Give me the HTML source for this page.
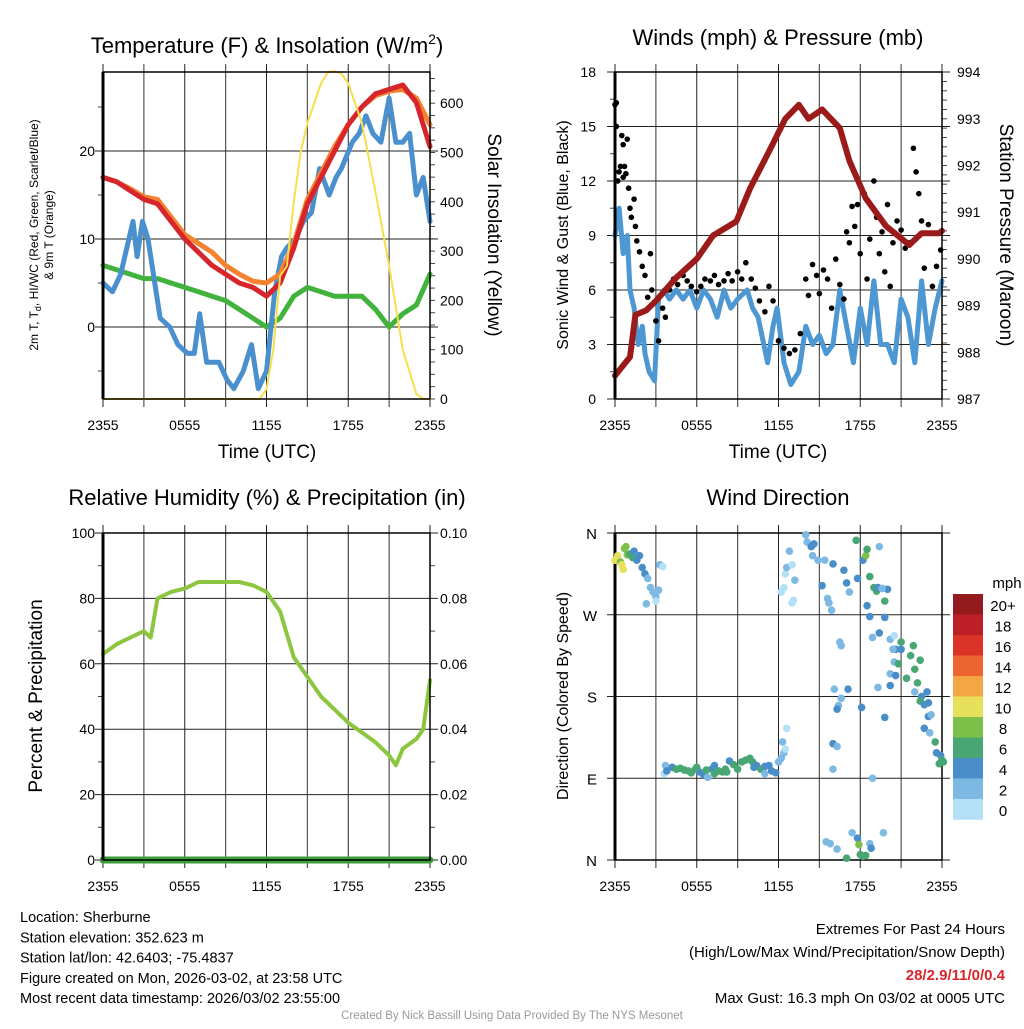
<!DOCTYPE html>
<html><head><meta charset="utf-8"><style>
body{margin:0;background:#fff;width:1024px;height:1024px;overflow:hidden}
svg{font-family:"Liberation Sans",Arial,sans-serif}
</style></head><body>
<svg id="s" width="1024" height="1024" xmlns="http://www.w3.org/2000/svg"></svg>
<script>
// ---- data ----
const hourLabels=["2355","0555","1155","1755","2355"];
const tempRed=[17,16.5,15.5,14.5,14,12,10,8.5,7,6,5,4.5,3.5,5,9,14,17,20,23,25,26.5,27,27.5,25.5,20.5];
const tempOrange=[17,16.5,15.7,14.8,14.5,12.5,10.5,9.5,8.5,7,6,5.2,5,6,9.5,14.5,17.5,20.5,23,25,26.3,26.8,27,26,23];
const tempGreen=[7,6.5,6,5.5,5.5,5,4.5,4,3.5,3,2,1,0,1,3.5,4.5,4,3.5,3.5,3.5,2,0,1.5,2.5,6];
const dewH=[0,0.7,1.3,2.2,2.5,2.9,3.3,3.7,4.2,4.9,5.5,6.2,6.7,7.1,7.6,8.5,9.1,9.6,10.3,10.9,11.4,12,12.6,13.1,13.5,14.1,14.7,15.3,15.9,16.6,17.1,17.5,18.3,18.8,19.3,19.8,20.4,21,21.5,22,22.5,23,23.5,24];
const dewV=[5,4,6,12,8,12,10,6,1,0,-2,-3,-3,1.5,-4,-4,-6,-7,-5,-2,-7,-5,4,8,9,10,12,13,18,15,17,18,21,22,24,22,21,26,21,21,22,15,17,12];
const solarH=[0,11.5,12,12.5,13,13.5,14,14.5,15,16,16.5,17,17.5,18,19,20,21,22,23,23.5,24];
const solarV=[0,0,20,100,250,270,400,500,560,640,663,665,660,640,560,420,270,100,10,0,0];
const presH=[0,1.1,1.5,2.3,3,4.5,6,7.2,8.9,9.9,11.3,12.5,13.5,14.2,15.2,16.5,17.2,18.4,19.9,21.6,22.5,23.8,24];
const presV=[987.5,987.9,988.8,988.9,989.1,989.6,990,990.5,990.8,991.5,992.3,993,993.3,993,993.2,992.8,992.1,991.3,990.7,990.3,990.55,990.55,990.6];
const windH=[0,0.3,0.6,0.9,1.1,1.4,1.7,2,2.2,2.5,2.9,3.2,3.6,4,4.5,5,5.5,6,6.5,7,7.5,8,8.5,9,9.7,10.1,10.5,11.2,11.6,11.9,12.4,12.9,13.5,14,14.5,15,15.5,16,16.5,17,17.5,18,18.5,19,19.5,20,20.5,21,21.5,22,22.5,23,23.5,24];
const windV=[9,10.5,8,9,6,5,3,4,2.5,1.5,1,5.5,6,5.5,6,5.5,6,5,6,5.5,4.5,6,5,5.5,6,5,4.5,2,4,5,2,0.8,1.5,4,3,3.5,2.5,3,6,4,2,5,3,6.5,3,3,2,5.5,4.5,2,6.5,3,5,6.5];
const gustH=[0,0.1,0.1,0.2,0.3,0.4,0.5,0.6,0.6,0.7,0.8,0.9,1,1.1,1.2,1.4,1.5,1.6,1.8,2,2.2,2.4,2.6,2.7,3,3.2,3.5,3.7,4,4.3,4.6,5,5.3,5.6,6,6.3,6.6,7,7.3,7.6,8,8.3,8.6,9,9.3,9.6,10,10.3,10.6,11,11.3,11.6,12,12.4,12.8,13.2,13.6,14,14.2,14.5,14.8,15,15.3,15.6,15.9,16.2,16.5,16.8,17,17.2,17.4,17.6,17.8,18,18.3,18.5,18.7,19,19.2,19.4,19.6,19.8,20,20.2,20.4,20.7,21,21.3,21.6,21.9,22.1,22.3,22.5,22.7,23,23.3,23.6,23.9];
const gustV=[16.2,16.3,15,12,12.5,12.8,14.5,14,12.2,12.8,12.4,14.3,11.6,10.5,10,11,9.5,8.7,8.1,7.3,6.8,5.6,8,6,4.3,3.2,5,4.5,6,6.6,6.3,6.8,6.5,6.2,5.9,6.2,6.6,6.5,6.8,6.3,6.5,6.9,6.5,7,6.6,7.5,6.6,6.1,5.4,4.8,6.2,5.4,3.2,2.8,2.5,2.7,3.6,6.6,5.7,7.4,6.8,5.8,7.1,6.6,5,7.7,6.3,5.5,9.2,8.6,10.6,9.5,10.7,8,11.3,6.6,8.8,12,10,8,9.2,7,10.7,6.2,8.6,9.8,9.3,8.3,8.6,13.8,12.5,11.3,9.8,7.2,9.6,6.2,7.3,8.2];
const rhH=[0,1,2,3,3.5,4,5,6,7,8,9,10,11,12,13,14,15,16,17,18,19,20,21,21.5,22,23,23.5,24];
const rhV=[63,66,68,70,68,80,82,83,85,85,85,85,84,82,76,62,56,50,46,42,39,36,32,29,34,37,40,55];
const dirH=[0,0.2,0.4,0.5,0.6,0.7,0.8,0.9,1.1,1.3,1.4,1.6,1.8,2,2.2,2.4,2.6,2.8,3,3.2,2.3,3,3.3,3.5,
3.6,3.7,3.8,4.2,4.5,4.8,5.1,5.4,5.6,5.9,6.2,6.5,6.8,7.1,7.3,7.6,7.9,8.1,8.4,8.7,9,9.3,9.6,9.9,10.1,10.4,10.7,11,11,11.3,11.5,11.8,6,6.7,8.2,7.3,10.2,12,12.2,12.4,12.5,12.3,12.6,
12.2,12.4,12.5,12.6,12.8,13,13.1,13.2,13,14,14.1,14.4,14.6,14.5,14.9,15.4,15.2,15.6,15.7,15.9,16,16.8,16.5,16.6,17,17.2,17.1,16.1,16.6,16.4,16.3,16,16.3,16,17.7,18.2,18.4,17.8,18.5,15.5,15.8,16.3,17.4,17.8,17.9,18,18.2,18.4,18.7,18.8,19.7,19.4,17,18.7,18.5,
19,19.2,19.3,19.8,20,19.6,18.7,19.8,19.4,18.9,20.2,20.5,20.6,20.4,21,21,20.5,20.8,20.2,20.6,21.4,21.7,21.9,22,22.4,22.2,22.5,22,22.4,22.7,22.9,23,23,23.2,22.7,23.1,23.5,23.6,23.9,24,24.1,23.8,19.3,18.1,20.2,19.8,18.9];
const dirDeg=[330,335,328,325,320,343,345,336,337,333,340,330,335,322,315,310,300,295,290,297,282,285,325,323,
95,104,98,102,100,101,99,98,96,100,97,94,91,100,104,98,97,100,109,105,100,108,110,112,108,104,100,103,95,104,98,96,102,99,97,95,102,108,112,118,122,130,145,
295,300,315,322,340,283,286,308,325,358,350,345,348,335,330,330,302,288,283,275,326,319,240,236,305,295,188,188,178,170,166,128,125,100,352,330,335,310,280,20,18,12,30,24,17,6,4,5,18,13,30,345,2,312,342,
300,296,300,285,298,299,268,267,250,245,243,247,232,232,232,240,218,216,205,203,200,225,236,210,220,195,180,185,175,171,185,173,158,160,145,140,130,118,115,110,108,106,190,168,192,157,90];
const dirSpd=[10,10,9,10,10,8,8,8,6,6,5,4,4,4,4,3,3,2,2,2,2,0,2,0,
0,2,4,4,6,6,6,6,6,6,4,4,2,4,4,6,6,6,4,6,6,6,6,6,6,4,6,4,2,4,4,4,6,6,6,6,4,2,2,2,0,2,0,
0,0,0,2,2,0,0,2,0,2,2,4,4,2,2,2,4,2,2,2,4,4,2,2,4,2,4,2,2,2,4,4,2,2,6,4,8,4,4,2,2,2,2,4,8,6,6,6,2,4,2,2,6,6,6,
6,6,4,6,4,2,4,4,4,2,2,0,4,2,4,6,2,6,2,4,6,6,6,6,6,6,4,2,6,4,4,4,4,2,4,2,6,4,4,6,6,6,2,4,4,4,2];
const cbLabels=["20+","18","16","14","12","10","8","6","4","2","0"];
const cbColors=["#931b1e","#bc1f26","#dc3328","#ec6430","#f5a644","#e6e05a","#7cc04a","#48a672","#4a8ec9","#7db9e3","#b3e0f7"];

// ---- drawing ----
const S=document.getElementById('s');const NS="http://www.w3.org/2000/svg";
function el(t,a,p){const e=document.createElementNS(NS,t);for(const k in a)e.setAttribute(k,a[k]);(p||S).appendChild(e);return e;}
function txt(x,y,s,o){o=o||{};const e=el('text',{x:x,y:y,'font-size':o.fs||14,'text-anchor':o.a||'middle',fill:o.c||'#000','font-weight':o.w||'normal'},o.p);if(o.r)e.setAttribute('transform','rotate('+o.r+' '+x+' '+y+')');e.textContent=s;return e;}
function path(pts){return 'M'+pts.map(p=>p[0].toFixed(1)+','+p[1].toFixed(1)).join('L');}
function mkPanel(name,x0,x1,y0,y1){const g=el('g',{});
 const P={g,x0,x1,y0,y1,X:h=>x0+(x1-x0)*h/24};
 for(let i=0;i<=8;i++){const x=P.X(i*3);const ln=el('line',{x1:x,x2:x,y1:y0-8,y2:y1+8,stroke:i%2?'#555':'#222','stroke-width':i%2?1.2:1},g);}
 hourLabels.forEach((l,i)=>{const t=txt(P.X(i*6),y1+31,l,{p:g});});
 return P;}
function hgrid(P,ys){ys.forEach(y=>{const ln=el('line',{x1:P.x0-8,x2:P.x1+8,y1:y,y2:y,stroke:'#222','stroke-width':1},P.g);});}
function frame(P){const r=el('rect',{x:P.x0,y:P.y0,width:P.x1-P.x0,height:P.y1-P.y0,fill:'none',stroke:'#000','stroke-width':1.5},P.g);
 el('line',{x1:P.x0,x2:P.x0,y1:P.y0,y2:P.y1,stroke:'#000','stroke-width':3},P.g);}
function minor(P,side,ys){ys.forEach(y=>{const x=side?P.x1:P.x0;el('line',{x1:x,x2:x+(side?5:-5),y1:y,y2:y,stroke:'#444','stroke-width':1},P.g);});}
function line(P,hs,vs,Y,col,w,name){const e=el('path',{d:path(hs.map((h,i)=>[P.X(h),Y(vs[i])])),fill:'none',stroke:col,'stroke-width':w,'stroke-linejoin':'round','stroke-linecap':'round'},P.g);return e;}
const idx=tempRed.map((_,i)=>i);

// Panel 1
const P1=mkPanel('temperature-panel',103,430,72,399);
const Y1=v=>327-v*8.8, YS=v=>399-v*0.493;
hgrid(P1,[Y1(0),Y1(10),Y1(20)]);
for(let v=-5;v<=28;v+=5)if(v%10)minor(P1,0,[Y1(v)]);
for(let v=0;v<=650;v+=25)minor(P1,1,[YS(v)]);
line(P1,idx,tempGreen,Y1,'#41b23c',5,'td-line');
line(P1,dewH,dewV,Y1,'#4a90cf',5,'heat-index-line');
line(P1,idx,tempOrange,Y1,'#f5822f',5,'temp-9m-line');
line(P1,idx,tempRed,Y1,'#d7262b',5,'temp-2m-line');
line(P1,solarH,solarV,YS,'#f7df4a',2,'insolation-line');
frame(P1);
[0,10,20].forEach(v=>txt(95,Y1(v)+5,v,{a:'end'}));
[0,100,200,300,400,500,600].forEach(v=>txt(440,YS(v)+5,v,{a:'start'}));
{const t=el('text',{x:267,y:53,'font-size':22,'text-anchor':'middle'});t.innerHTML='Temperature (F) &amp; Insolation (W/m<tspan dy="-9" font-size="14">2</tspan><tspan dy="9">)</tspan>';}
{const t=el('text',{x:38,y:235,'font-size':12,'text-anchor':'middle',transform:'rotate(-90 38 235)'});t.innerHTML='2m T, T<tspan dy="3" font-size="9">d</tspan><tspan dy="-3">, HI/WC (Red, Green, Scarlet/Blue)</tspan>';
 txt(53,235,'& 9m T (Orange)',{fs:12,r:-90});}
txt(488,235,'Solar Insolation (Yellow)',{fs:19,r:90});
txt(267,458,'Time (UTC)',{fs:19});

// Panel 2
const P2=mkPanel('wind-pressure-panel',615,942,72,399);
const Y2=v=>399-v*18.17, YP=p=>399-(p-987)*46.7;
hgrid(P2,[0,3,6,9,12,15,18].map(Y2));
for(let v=1.5;v<18;v+=3)minor(P2,0,[Y2(v)]);
for(let p=987;p<=994;p+=0.2)minor(P2,1,[YP(p)]);
line(P2,windH,windV,Y2,'#4d97d3',5,'sonic-wind-line');
gustH.forEach((h,i)=>{const c=el('circle',{cx:P2.X(h),cy:Y2(gustV[i]),r:2.8,fill:'#000'},P2.g);});
line(P2,presH,presV,YP,'#9b1b1b',6,'pressure-line');
frame(P2);
[0,3,6,9,12,15,18].forEach(v=>txt(596,Y2(v)+5,v,{a:'end'}));
[987,988,989,990,991,992,993,994].forEach(p=>txt(957,YP(p)+5,p,{a:'start'}));
txt(778,45,'Winds (mph) & Pressure (mb)',{fs:22});
txt(568,235,'Sonic Wind & Gust (Blue, Black)',{fs:16,r:-90});
txt(1000,235,'Station Pressure (Maroon)',{fs:19,r:90});
txt(778,458,'Time (UTC)',{fs:19});

// Panel 3
const P3=mkPanel('humidity-panel',103,430,533,860);
const Y3=v=>860-v*3.27;
hgrid(P3,[0,20,40,60,80,100].map(Y3));
for(let v=10;v<100;v+=20){minor(P3,0,[Y3(v)]);minor(P3,1,[Y3(v)]);}
line(P3,rhH,rhV,Y3,'#8cc63f',4,'rh-line');
line(P3,[0,24],[0,0],Y3,'#3e9e3e',7,'precip-line');
frame(P3);
[0,20,40,60,80,100].forEach(v=>txt(95,Y3(v)+5,v,{a:'end'}));
[0,20,40,60,80,100].forEach(v=>txt(440,Y3(v)+5,(v/1000).toFixed(2),{a:'start'}));
txt(267,505,'Relative Humidity (%) & Precipitation (in)',{fs:22});
txt(42,696,'Percent & Precipitation',{fs:19,r:-90});

// Panel 4
const P4=mkPanel('wind-direction-panel',615,942,533,860);
const Y4=d=>860-d*327/360;
hgrid(P4,[0,90,180,270,360].map(Y4));
frame(P4);
dirH.forEach((h,i)=>{const b=Math.min(10,Math.floor(dirSpd[i]/2));const c=el('circle',{cx:P4.X(h),cy:Y4(dirDeg[i]),r:3.8,fill:cbColors[10-b]},P4.g);});
['N','E','S','W','N'].forEach((l,i)=>txt(597,Y4(i*90)+6,l,{a:'end',fs:15}));
txt(778,505,'Wind Direction',{fs:22});
txt(568,696,'Direction (Colored By Speed)',{fs:16,r:-90});
const cb=el('g',{});
cbColors.forEach((c,i)=>{el('rect',{x:953,y:594+i*20.5,width:30,height:20.8,fill:c},cb);txt(1003,611+i*20.5,cbLabels[i],{fs:15,p:cb});});
txt(1007,588,'mph',{fs:15,p:cb});

// Text block
['Location: Sherburne','Station elevation: 352.623 m','Station lat/lon: 42.6403; -75.4837','Figure created on Mon, 2026-03-02, at 23:58 UTC','Most recent data timestamp: 2026/03/02 23:55:00'].forEach((s,i)=>txt(20,922+i*20.3,s,{a:'start',fs:14.5}));
txt(1005,934,'Extremes For Past 24 Hours',{a:'end',fs:15});
txt(1005,957,'(High/Low/Max Wind/Precipitation/Snow Depth)',{a:'end',fs:15});
txt(1005,980,'28/2.9/11/0/0.4',{a:'end',fs:15,c:'#d7262b',w:'bold'});
txt(1005,1003,'Max Gust: 16.3 mph On 03/02 at 0005 UTC',{a:'end',fs:15});
txt(512,1019,'Created By Nick Bassill Using Data Provided By The NYS Mesonet',{fs:11.5,c:'#999'});
</script>
</body></html>
